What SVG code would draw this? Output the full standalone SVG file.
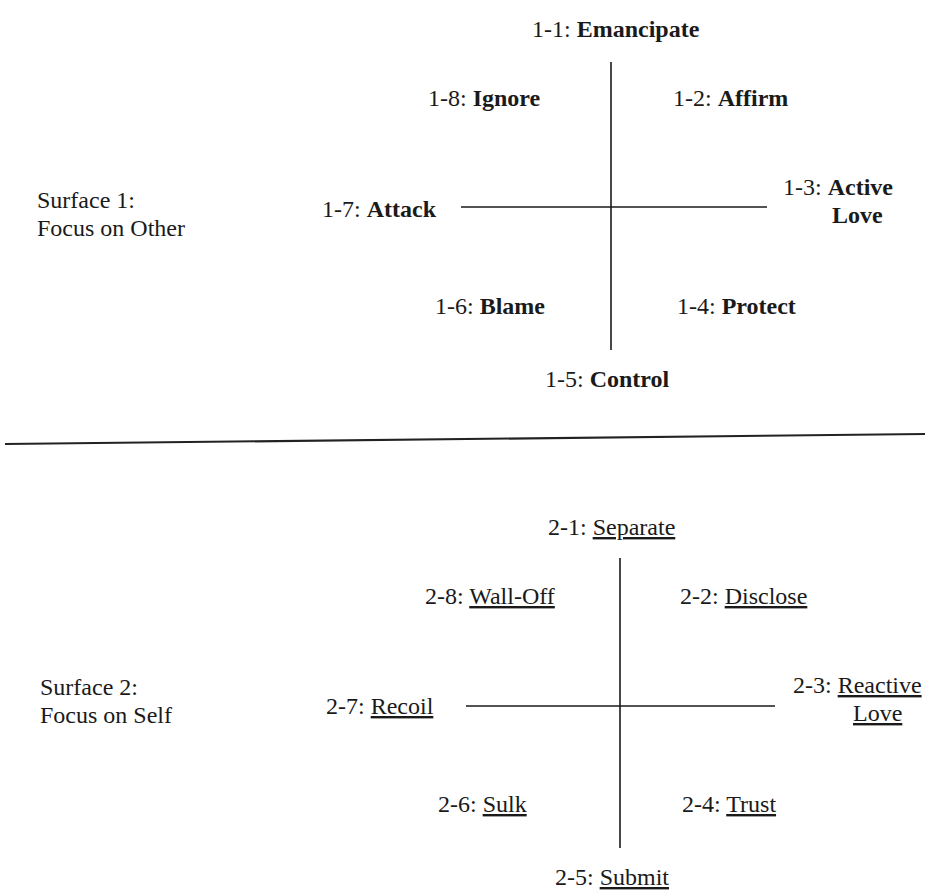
<svg xmlns="http://www.w3.org/2000/svg" width="931" height="891" viewBox="0 0 931 891">
<style>
text { font-family: "Liberation Serif", "Times New Roman", serif; font-size: 24px; fill: #1a1a1a; }
.b { font-weight: bold; }
.u { text-decoration: underline; }
.axis { stroke: #1a1a1a; stroke-width: 1.6; fill: none; }
.sep { stroke: #222; stroke-width: 2.2; fill: none; }
</style>
<rect width="931" height="891" fill="#ffffff"/>
<g id="connectors">
  <line class="axis" x1="611" y1="62" x2="611" y2="350"/>
  <line class="axis" x1="461" y1="207" x2="767" y2="207"/>
  <line class="sep" x1="5" y1="444" x2="925" y2="434"/>
  <line class="axis" x1="620" y1="558" x2="620" y2="848"/>
  <line class="axis" x1="466" y1="706" x2="775" y2="706"/>
</g>
<g id="surface1">
  <g id="s1-label"><text x="37" y="208">Surface 1:</text><text x="37" y="236">Focus on Other</text></g>
  <g id="n1-1"><text x="532" y="37">1-1: <tspan class="b">Emancipate</tspan></text></g>
  <g id="n1-2"><text x="673" y="106">1-2: <tspan class="b">Affirm</tspan></text></g>
  <g id="n1-3"><text x="783" y="195">1-3: <tspan class="b">Active</tspan></text><text x="832" y="223" class="b">Love</text></g>
  <g id="n1-4"><text x="677" y="314">1-4: <tspan class="b">Protect</tspan></text></g>
  <g id="n1-5"><text x="545" y="387">1-5: <tspan class="b">Control</tspan></text></g>
  <g id="n1-6"><text x="435" y="314">1-6: <tspan class="b">Blame</tspan></text></g>
  <g id="n1-7"><text x="322" y="217">1-7: <tspan class="b">Attack</tspan></text></g>
  <g id="n1-8"><text x="428" y="106">1-8: <tspan class="b">Ignore</tspan></text></g>
</g>
<g id="surface2">
  <g id="s2-label"><text x="40" y="695">Surface 2:</text><text x="40" y="723">Focus on Self</text></g>
  <g id="n2-1"><text x="548" y="535">2-1: <tspan class="u">Separate</tspan></text></g>
  <g id="n2-2"><text x="680" y="604">2-2: <tspan class="u">Disclose</tspan></text></g>
  <g id="n2-3"><text x="793" y="693">2-3: <tspan class="u">Reactive</tspan></text><text x="853" y="721" class="u">Love</text></g>
  <g id="n2-4"><text x="682" y="812">2-4: <tspan class="u">Trust</tspan></text></g>
  <g id="n2-5"><text x="555" y="885">2-5: <tspan class="u">Submit</tspan></text></g>
  <g id="n2-6"><text x="438" y="812">2-6: <tspan class="u">Sulk</tspan></text></g>
  <g id="n2-7"><text x="326" y="714">2-7: <tspan class="u">Recoil</tspan></text></g>
  <g id="n2-8"><text x="425" y="604">2-8: <tspan class="u">Wall-Off</tspan></text></g>
</g>
</svg>
